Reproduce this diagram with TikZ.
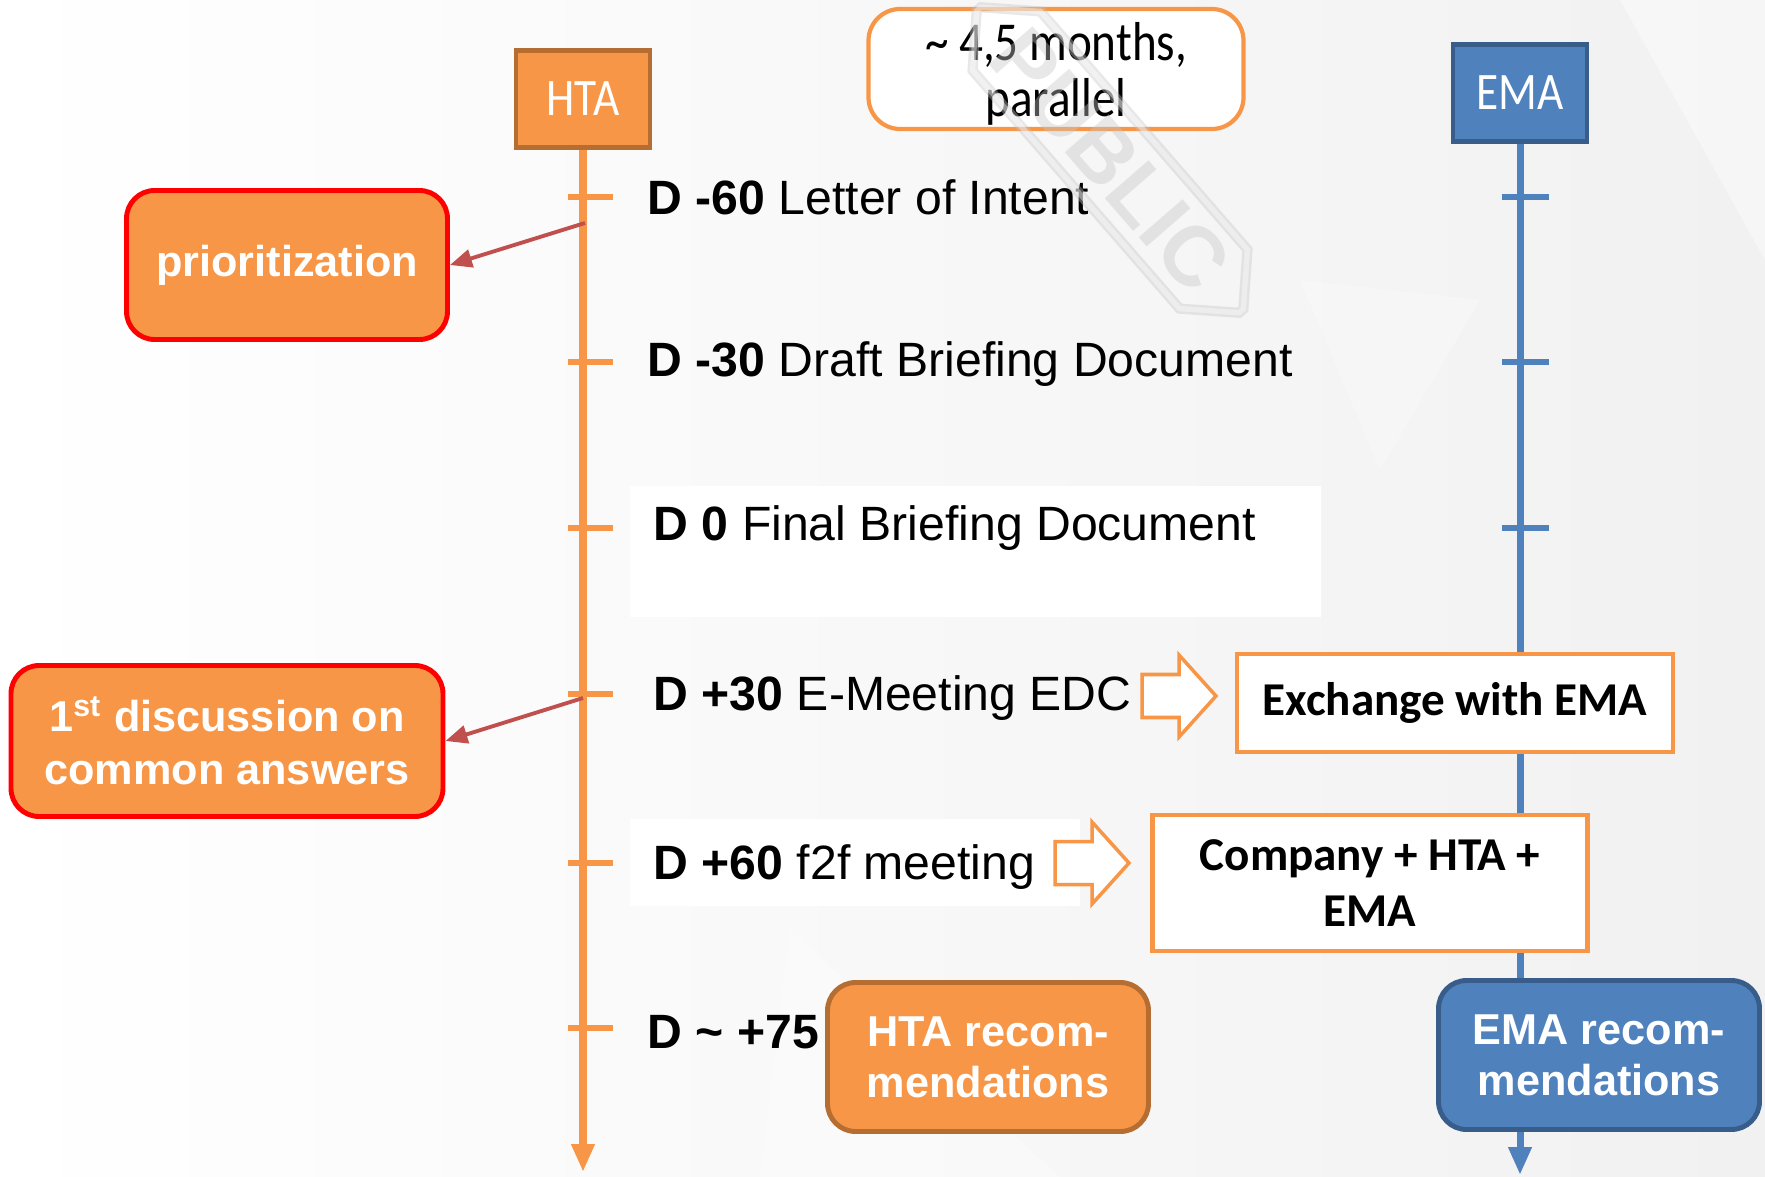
\documentclass[tikz,border=0pt]{standalone}
\usepackage{fontspec}
\setmainfont{Liberation Sans}
\newfontfamily\calibri{Carlito}
\newfontfamily\calibrinarrow{Carlito}[FakeStretch=0.86]
\usetikzlibrary{arrows.meta, positioning, calc, shapes.misc}
\definecolor{htaorange}{HTML}{F79646}
\definecolor{htaedge}{HTML}{B66D31}
\definecolor{emablue}{HTML}{4F81BD}
\definecolor{emaedge}{HTML}{385D8A}
\definecolor{linkred}{HTML}{C0504D}
\definecolor{alertred}{HTML}{FF0000}
% hollow block arrow around a given centre
\newcommand{\blockarrow}[1]{%
  \draw[flow] (#1) ++(-37,-21.5) -- ++(37,0) -- ++(0,-19.5) -- ++(37,41)
    -- ++(-37,41) -- ++(0,-19.5) -- ++(-37,0) -- cycle;}

\begin{document}
\begin{tikzpicture}[
  x=0.1mm, y=-0.1mm,
  >={Triangle[length=2.8mm, width=2.2mm]},
  every node/.style={inner sep=0pt},
  head/.style={draw, line width=1.4pt, minimum width=13.4mm, minimum height=9.7mm,
               text=white, font=\calibrinarrow\fontsize{15}{17}\selectfont},
  day/.style={anchor=west, font=\fontsize{13.7}{16}\selectfont},
  tick/.style={line width=1.7pt},
  task/.style={draw=alertred, fill=htaorange, line width=1.4pt, rounded corners=8pt,
               align=center, text=white, font=\bfseries\fontsize{12.3}{15}\selectfont},
  meet/.style={draw=htaorange, fill=white, line width=1.3pt, align=center,
               font=\calibri\bfseries\fontsize{13.4}{16}\selectfont},
  reco/.style={line width=1.4pt, rounded corners=8pt, align=center, text=white,
               minimum width=32.1mm, minimum height=14.9mm,
               font=\bfseries\fontsize{12.3}{14.5}\selectfont},
  link/.style={-{Triangle[length=2.2mm, width=1.8mm]}, linkred, line width=1.1pt},
  flow/.style={draw=htaorange, fill=white, line width=1pt, line join=miter}
]
\useasboundingbox (0,0) rectangle (1765,1177);
% backdrop
\fill[left color=white, right color=gray!11] (0,0) rectangle (1765,1177);
\fill[white, opacity=0.25] (1300,280) -- (1480,300) -- (1380,470) -- cycle;
\fill[white, opacity=0.4] (1620,0) -- (1765,0) -- (1765,260) -- cycle;
\fill[white, opacity=0.3] (790,930) -- (1060,1177) -- (760,1177) -- cycle;
\fill[white] (630,486) rectangle (1321,617);
\fill[white] (630,819) rectangle (1080,906);

% the two tracks
\node[head, fill=htaorange, draw=htaedge] (hta) at (583,99) {HTA};
\node[head, fill=emablue, draw=emaedge] (ema) at (1520,93) {EMA};
\coordinate (htaend) at (583,1172);
\coordinate (emaend) at (1520,1175);
\draw[->, htaorange, line width=2pt] (hta.south) -- (htaend);
\draw[->, emablue, line width=2pt] (ema.south) -- (emaend);
\foreach \y in {197,362,528,694,863,1028}
  \draw[tick, htaorange] (568,\y) -- (613,\y);
\foreach \y in {197,362,528}
  \draw[tick, emablue] (1502,\y) -- (1549,\y);

\node[draw=htaorange, fill=white, line width=1.2pt, rounded corners=9pt,
      minimum width=37.5mm, minimum height=12mm] (span) at (1056,69) {};
\node[align=center, font=\calibrinarrow\fontsize{15.6}{15.9}\selectfont] (spantext)
  at ($(span.center)+(0,5)$) {\textasciitilde{} 4,5 months,\\parallel};

% milestones
\node[day] (d60)  at (647,197)  {\textbf{D -60} Letter of Intent};
\node[day] (d30)  at (647,364)  {\textbf{D -30} Draft Briefing Document};
\node[day] (d0)   at (653,528)  {\textbf{D 0} Final Briefing Document};
\node[day] (p30)  at (653,698)  {\textbf{D +30} E-Meeting EDC};
\node[day] (p60)  at (653,867)  {\textbf{D +60} f2f meeting};
\node[day] (p75)  at (647,1032) {\textbf{D \textasciitilde{} +75}};

% side tasks on the HTA track
\node[task, minimum width=32.1mm, minimum height=14.9mm] (prio) at (287,265) {prioritization};
\node[task, minimum width=43.2mm, minimum height=15.1mm] (disc) at (227,741)
  {1\textsuperscript{st} discussion on\\common answers};
\coordinate (prioout) at (585,223);
\coordinate (discout) at (583,698);
\draw[link] (prioout) -- (prio.east);
\draw[link] (discout) -- (disc.east);

% joint meetings
\node[meet, minimum width=43.6mm, minimum height=9.8mm] (xchg) at (1455,703) {Exchange with EMA};
\node[meet, minimum width=43.5mm, minimum height=13.6mm] (f2f) at (1370,883) {Company + HTA +\\EMA};
\coordinate (xchgarrow) at (1179,696);
\coordinate (f2farrow) at (1092,863);
\blockarrow{xchgarrow}
\blockarrow{f2farrow}

% outcomes
\node[reco, fill=htaorange, draw=htaedge] (htareco) at (988,1057) {HTA recom-\\mendations};
\node[reco, fill=emablue, draw=emaedge] (emareco) at (1599,1055) {EMA recom-\\mendations};

% stamp
\node[chamfered rectangle, chamfered rectangle xsep=5mm, rotate=-49, draw=gray!45,
      double=white, double distance=1.5pt, line width=0.7pt, minimum width=40mm,
      minimum height=9mm, text=gray!45, font=\bfseries\fontsize{24}{24}\selectfont,
      opacity=0.4] (stamp)
  at (1110,160) {PUBLIC};
\end{tikzpicture}
\end{document}
